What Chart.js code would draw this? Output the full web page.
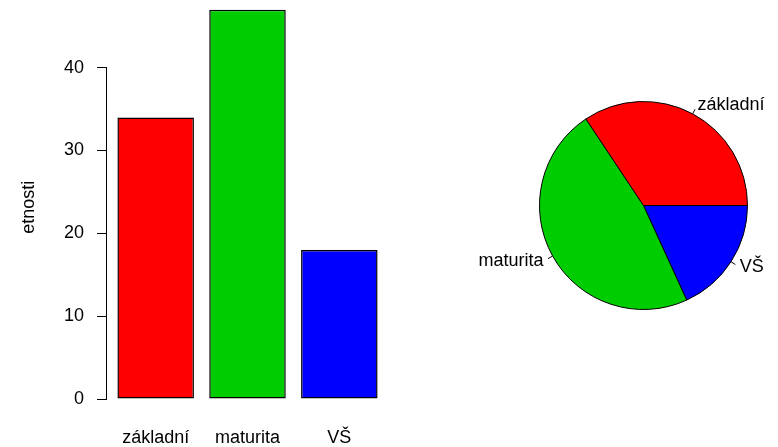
<!DOCTYPE html>
<html>
<head>
<meta charset="utf-8">
<script src="https://cdn.jsdelivr.net/npm/chart.js@4"></script>
<style>
  html, body { margin: 0; padding: 0; background: #fff; }
  #wrap { position: relative; width: 778px; height: 447px; overflow: hidden; }
  #bar { position: absolute; left: 0; top: 0; }
  #pie { position: absolute; left: 389px; top: 0; }
</style>
</head>
<body>
<div id="wrap">
  <canvas id="bar" width="400" height="447"></canvas>
  <canvas id="pie" width="389" height="447"></canvas>
</div>
<script>
// data
const categories = ['základní', 'maturita', 'VŠ'];
const counts = [34, 47, 18];
const colors = ['#ff0000', '#00cd00', '#0000ff'];
const yTicks = [0, 10, 20, 30, 40];
const yTitle = 'etnosti';

Chart.defaults.font.family = '"Liberation Sans", Arial, sans-serif';
Chart.defaults.font.size = 18;
Chart.defaults.color = '#000';

// R barplot layout: width 1, space 0.2
const barX = categories.map((_, i) => 0.7 + 1.2 * i);

// y axis line only spans the tick range, like base R
const yAxisLine = {
  id: 'yAxisLine',
  afterDraw(chart) {
    const y = chart.scales.y;
    const x = Math.round(chart.chartArea.left) - 0.5;
    const ctx = chart.ctx;
    ctx.save();
    ctx.strokeStyle = '#000';
    ctx.lineWidth = 1;
    ctx.beginPath();
    ctx.moveTo(x, y.getPixelForValue(yTicks[0]));
    ctx.lineTo(x, y.getPixelForValue(yTicks[yTicks.length - 1]));
    ctx.stroke();
    ctx.restore();
  }
};

new Chart(document.getElementById('bar'), {
  type: 'bar',
  data: {
    datasets: [{
      data: categories.map((c, i) => ({ x: barX[i], y: counts[i] })),
      backgroundColor: colors,
      borderColor: '#000',
      borderWidth: 1.5,
      borderSkipped: false,
      categoryPercentage: 1,
      barPercentage: 1 / 1.2,
    }],
  },
  options: {
    responsive: false,
    animation: false,
    layout: { padding: { left: 0, right: 12, top: 0, bottom: 0 } },
    plugins: { legend: { display: false }, tooltip: { enabled: false } },
    scales: {
      x: {
        type: 'linear',
        offset: false,
        min: 0.064,
        max: 3.736,
        afterFit: (scale) => { scale.height = 32.4; },
        grid: { display: false, drawTicks: false },
        border: { display: false },
        afterBuildTicks: (scale) => { scale.ticks = barX.map((v) => ({ value: v })); },
        ticks: {
          autoSkip: false,
          maxRotation: 0,
          padding: 13,
          callback: (v, i) => categories[i],
        },
      },
      y: {
        min: -1.88,
        max: 48.17,
        afterFit: (scale) => {
          scale.width = 107;
          scale.paddingTop = 0;
          scale.paddingBottom = 0;
        },
        afterBuildTicks: (scale) => { scale.ticks = yTicks.map((v) => ({ value: v })); },
        grid: { drawOnChartArea: false, drawTicks: true, tickLength: 10, color: '#000' },
        border: { display: false },
        ticks: { padding: 13 },
        title: { display: true, text: yTitle, padding: { top: 18, bottom: 0 } },
      },
    },
  },
  plugins: [yAxisLine],
});

// pie labels with short leader ticks, R style
const pieLabels = {
  id: 'pieLabels',
  afterDraw(chart) {
    const ctx = chart.ctx;
    const meta = chart.getDatasetMeta(0);
    ctx.save();
    ctx.font = '18px "Liberation Sans", Arial, sans-serif';
    ctx.fillStyle = '#000';
    ctx.strokeStyle = '#000';
    ctx.lineWidth = 1;
    ctx.textBaseline = 'middle';
    meta.data.forEach((arc, i) => {
      const p = arc.getProps(['x', 'y', 'startAngle', 'endAngle', 'outerRadius'], true);
      const mid = (p.startAngle + p.endAngle) / 2;
      const r = p.outerRadius;
      const c = Math.cos(mid), s = Math.sin(mid);
      ctx.beginPath();
      ctx.moveTo(p.x + r * c, p.y + r * s);
      ctx.lineTo(p.x + 1.05 * r * c, p.y + 1.05 * r * s);
      ctx.stroke();
      ctx.textAlign = c > 0 ? 'left' : 'right';
      ctx.fillText(chart.data.labels[i], p.x + 1.1 * r * c, p.y + 1.1 * r * s);
    });
    ctx.restore();
  }
};

// R draws counter-clockwise from 3 o'clock; Chart.js goes clockwise, so reverse
new Chart(document.getElementById('pie'), {
  type: 'pie',
  data: {
    labels: [...categories].reverse(),
    datasets: [{
      data: [...counts].reverse(),
      backgroundColor: [...colors].reverse(),
      borderColor: '#000',
      borderWidth: 1,
    }],
  },
  options: {
    responsive: false,
    animation: false,
    rotation: 90,
    layout: { padding: { left: 150, right: 30, top: 101, bottom: 137 } },
    plugins: { legend: { display: false }, tooltip: { enabled: false } },
  },
  plugins: [pieLabels],
});
</script>
</body>
</html>
